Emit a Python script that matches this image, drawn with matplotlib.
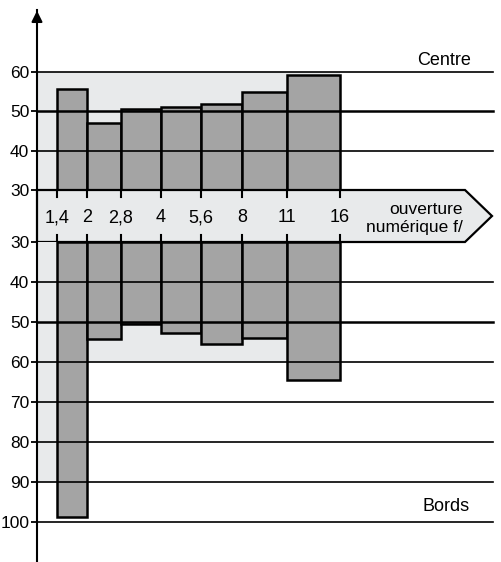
import numpy as np
import matplotlib.pyplot as plt
from matplotlib.patches import Polygon, Rectangle

plt.rcParams['font.family'] = ['Liberation Sans', 'DejaVu Sans']

# ----- DATA ----- #
apertures = ['1,4', '2', '2,8', '4', '5,6', '8', '11', '16']     # f-numbers (bar edges)
edges = [20, 50, 84, 124, 164, 205, 250, 303]                     # edge positions along the band
centre = [55.7, 47.0, 50.6, 51.0, 51.8, 54.9, 59.3]               # centre values
bords = [98.8, 54.2, 50.5, 52.8, 55.5, 54.0, 64.5]                # edge values
ticks_top = [30, 40, 50, 60]
ticks_bot = [30, 40, 50, 60, 70, 80, 90, 100]

dark = '#a4a4a4'
light = '#e8eaeb'
W, H = 501, 562
x0 = 37
xmax = 464
grid_end = 456

fig = plt.figure(figsize=(W/100, H/100), dpi=100)
ax_top = fig.add_axes([x0/W, 1 - 190/H, xmax/W, 190/H])
ax_band = fig.add_axes([x0/W, 1 - 242/H, xmax/W, 52/H])
ax_bot = fig.add_axes([x0/W, 0, xmax/W, 320/H])

widths = np.diff(edges)

# top part (centre)
ax_top.set_xlim(0, xmax)
ax_top.set_ylim(30, 30 + 190/3.933)
ax_top.add_patch(Rectangle((0, 30), edges[-1], 30, fc=light, ec='none', zorder=0))
ax_top.bar(edges[:-1], np.array(centre) - 30, width=widths, bottom=30, align='edge',
           color=dark, edgecolor='black', linewidth=1.8, zorder=2)
for v in ticks_top[1:]:
    ax_top.plot([0, grid_end], [v, v], color='black', lw=1.8 if v == 50 else 1.2, zorder=3)
ax_top.text(407, 63.0, 'Centre', ha='center', va='center', fontsize=13)

# bottom part (bords)
ax_bot.set_xlim(0, xmax)
ax_bot.set_ylim(110, 30)
ax_bot.add_patch(Rectangle((0, 30), edges[-1], 30, fc=light, ec='none', zorder=0))
ax_bot.add_patch(Rectangle((0, 30), edges[0], 60, fc=light, ec='none', zorder=0))
ax_bot.bar(edges[:-1], np.array(bords) - 30, width=widths, bottom=30, align='edge',
           color=dark, edgecolor='black', linewidth=1.8, zorder=2)
for v in ticks_bot[1:]:
    ax_bot.plot([0, grid_end], [v, v], color='black', lw=1.8 if v == 50 else 1.2, zorder=3)
ax_bot.text(409, 96, 'Bords', ha='center', va='center', fontsize=13)

for ax, tk in [(ax_top, ticks_top), (ax_bot, ticks_bot)]:
    for s in ['top', 'right', 'bottom']:
        ax.spines[s].set_visible(False)
    ax.spines['left'].set_linewidth(1.5)
    ax.set_yticks(tk)
    ax.set_yticklabels([str(t) for t in tk])
    ax.tick_params(axis='y', direction='out', length=4, width=1.3, labelsize=12.5, pad=1.5)
    ax.set_xticks([])
    ax.patch.set_alpha(0)

ax_top.spines['left'].set_bounds(30, 30 + 180/3.933)
ax_top.annotate('', xy=(0, 30 + 182/3.933), xytext=(0, 30 + 165/3.933),
                arrowprops=dict(arrowstyle='-|>', color='black', lw=1.5, mutation_scale=16))

# band with f-numbers
ax_band.set_xlim(0, xmax)
ax_band.set_ylim(0, 1)
ax_band.axis('off')
ax_band.add_patch(Polygon([(0, 1), (428, 1), (455, 0.5), (428, 0), (0, 0)], closed=True,
                          fc=light, ec='black', lw=1.6, clip_on=False))
for e, lab in zip(edges, apertures):
    ax_band.plot([e, e], [1, 0.87], color='black', lw=1.5)
    ax_band.plot([e, e], [0, 0.13], color='black', lw=1.5)
    ax_band.text(e, 0.47, lab, ha='center', va='center', fontsize=13)
ax_band.text(426, 0.45, 'ouverture\nnumérique f/', ha='right', va='center',
             fontsize=12.5, linespacing=1.2)

plt.savefig('out.png', dpi=100)
